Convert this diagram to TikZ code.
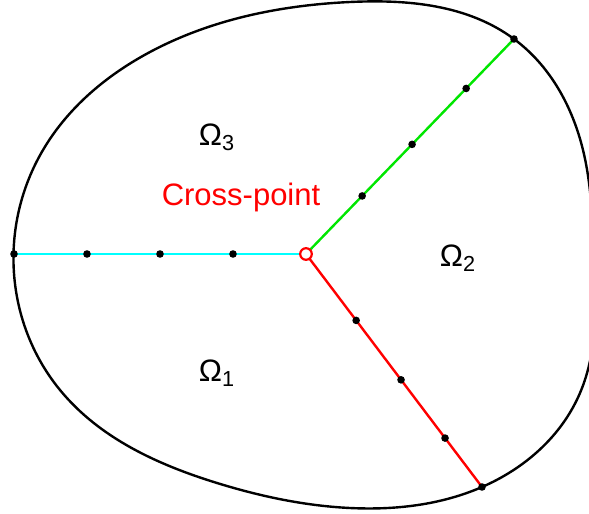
\documentclass[tikz,border=0pt]{standalone}
\usepackage{fontspec}
\setmainfont{Liberation Sans}
\usetikzlibrary{positioning, hobby}
\definecolor{seamgreen}{RGB}{0,230,0}
\definecolor{seamcyan}{RGB}{0,255,255}
\tikzset{
  dot/.style={circle, fill=black, inner sep=0pt, minimum size=3.8pt},
  crossmark/.style={circle, draw=red, fill=white, line width=1.1pt, inner sep=0pt, minimum size=5.8pt},
  seam/.style={line width=1.2pt},
  region/.style={font=\fontsize{15.5}{18}\selectfont},
}
\begin{document}
\begin{tikzpicture}[x=0.5pt,y=-0.5pt]
\useasboundingbox (0,0) rectangle (589,514);
% end points of the interfaces
\coordinate (X) at (306,254);
\coordinate (W) at (14,254);
\coordinate (NE) at (514,39);
\coordinate (SE) at (482,487);
% boundary of the domain
\draw[seam, use Hobby shortcut, closed=true]
  (13.5,254) .. (43,150) .. (150,52) .. (350,2) .. (514,39)
  .. (583,150) .. (594,255) .. (580,393) .. (482,487)
  .. (350,508) .. (217,483) .. (60,390);
% interfaces
\draw[seam, seamcyan] (X) -- (W)
  node[dot, pos=0.25] (c1) {} node[dot, pos=0.5] (c2) {}
  node[dot, pos=0.75] (c3) {} node[dot, pos=1] (c4) {};
\draw[seam, seamgreen] (X) -- (NE)
  node[dot, pos=0.27] (g1) {} node[dot, pos=0.51] (g2) {}
  node[dot, pos=0.77] (g3) {} node[dot, pos=1] (g4) {};
\draw[seam, red] (X) -- (SE)
  node[dot, pos=0.285] (r1) {} node[dot, pos=0.54] (r2) {}
  node[dot, pos=0.79] (r3) {} node[dot, pos=1] (r4) {};
\node[crossmark] (xp) at (X) {};
% labels
\node[region] (om3) at (217,137) {Ω\textsubscript{3}};
\node[region] (om2) at (458,258) {Ω\textsubscript{2}};
\node[region] (om1) at (217,373) {Ω\textsubscript{1}};
\node[region, text=red] (cp) at (241,197) {Cross-point};
\end{tikzpicture}
\end{document}
